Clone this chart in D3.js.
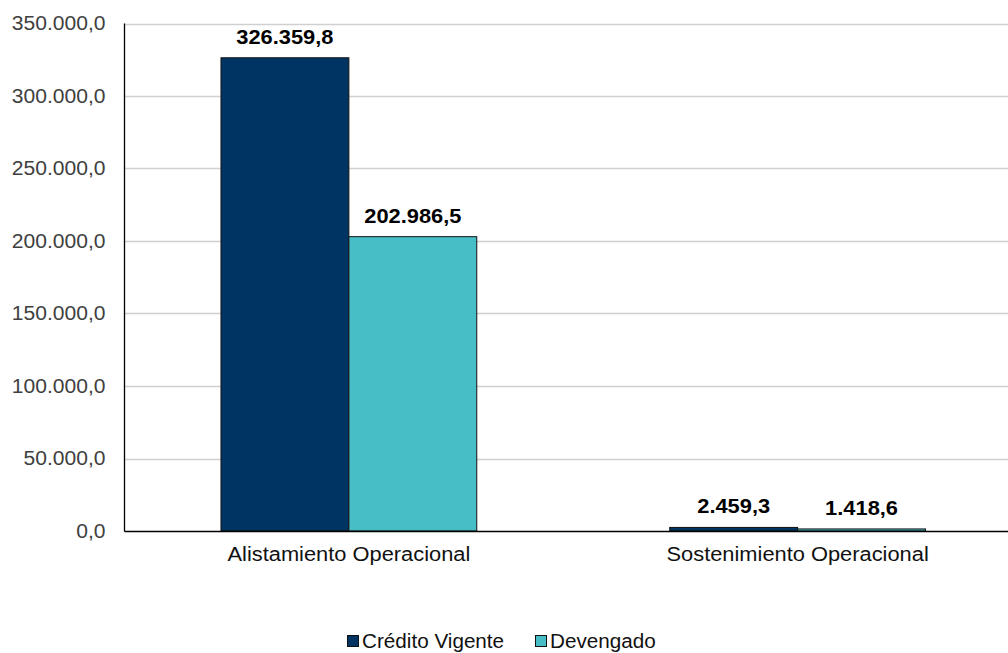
<!DOCTYPE html>
<html>
<head>
<meta charset="utf-8">
<script src="https://d3js.org/d3.v7.min.js"></script>
<style>
  html, body { margin: 0; padding: 0; background: #ffffff; }
  svg { display: block; font-family: "Liberation Sans", Arial, sans-serif; }
</style>
</head>
<body>
<svg id="chart" width="1008" height="653"></svg>
<script>
// Budget by program: current credit vs. accrued amount
const categories = ["Alistamiento Operacional", "Sostenimiento Operacional"];
const seriesNames = ["Crédito Vigente", "Devengado"];
const creditoVigente = [326359.8, 2459.3];
const devengado = [202986.5, 1418.6];
const yTicks = [0, 50000, 100000, 150000, 200000, 250000, 300000, 350000];
const seriesColors = ["#003462", "#47bdc6"];

const svg = d3.select("#chart");
const margin = { left: 124.5, right: -14, top: 23.5, bottom: 122 };
const W = 1008, H = 653;
const plotLeft = margin.left, plotRight = W - margin.right;
const plotTop = margin.top, plotBottom = H - margin.bottom;
const FONT = "19.5px";

// Spanish number format: "." thousands, "," decimals
const locale = d3.formatLocale({ decimal: ",", thousands: ".", grouping: [3], currency: ["", ""] });
const fmt = locale.format(",.1f");

// Widen a text selection horizontally, keeping its anchor
function widen(sel, k) {
  sel.each(function () {
    const len = this.getComputedTextLength();
    d3.select(this).attr("textLength", len * k).attr("lengthAdjust", "spacingAndGlyphs");
  });
}

const x0 = d3.scaleBand().domain(categories).range([plotLeft, plotRight])
  .paddingInner(0.43).paddingOuter(0.215);
const x1 = d3.scaleBand().domain(seriesNames).range([0, x0.bandwidth()]).padding(0);
const y = d3.scaleLinear().domain([0, 350000]).range([plotBottom, plotTop]);

// Gridlines
svg.append("g").selectAll("line").data(yTicks.filter(d => d > 0)).join("line")
  .attr("x1", plotLeft).attr("x2", W)
  .attr("y1", d => Math.round(y(d)) + 0.5).attr("y2", d => Math.round(y(d)) + 0.5)
  .attr("stroke", "#d0d0d0").attr("stroke-width", 1.3);

// Y axis tick labels
const yAxis = d3.axisLeft(y).tickValues(yTicks).tickFormat(fmt).tickSize(0).tickPadding(19);
const gy = svg.append("g").attr("transform", `translate(${plotLeft},0)`).call(yAxis);
gy.select(".domain").remove();
gy.selectAll("text").attr("fill", "#404040").style("font-size", FONT)
  .style("font-family", "'Liberation Sans', Arial, sans-serif").call(widen, 1.08);

// Bars
const table = categories.map((c, i) => ({ cat: c, vals: [creditoVigente[i], devengado[i]] }));
const groups = svg.append("g").selectAll("g").data(table).join("g")
  .attr("transform", d => `translate(${x0(d.cat)},0)`);

groups.selectAll("rect").data(d => d.vals.map((v, j) => ({ v, s: seriesNames[j], j }))).join("rect")
  .attr("x", d => x1(d.s))
  .attr("y", d => y(d.v))
  .attr("width", x1.bandwidth())
  .attr("height", d => plotBottom - y(d.v))
  .attr("fill", d => seriesColors[d.j])
  .attr("stroke", "#111")
  .attr("stroke-width", 1);

// Value labels
groups.selectAll("text").data(d => d.vals.map((v, j) => ({ v, s: seriesNames[j] }))).join("text")
  .attr("x", d => x1(d.s) + x1.bandwidth() / 2)
  .attr("y", d => y(d.v) - 14)
  .attr("text-anchor", "middle")
  .attr("font-weight", "bold")
  .attr("font-size", FONT)
  .attr("fill", "#000")
  .text(d => fmt(d.v))
  .call(widen, 1.12);

// Axis lines
svg.append("line").attr("x1", plotLeft).attr("x2", plotLeft)
  .attr("y1", plotTop).attr("y2", plotBottom + 0.5).attr("stroke", "#000").attr("stroke-width", 1.3);
svg.append("line").attr("x1", plotLeft).attr("x2", W)
  .attr("y1", plotBottom + 0.5).attr("y2", plotBottom + 0.5).attr("stroke", "#000").attr("stroke-width", 1.3);

// Category labels
const xAxis = d3.axisBottom(x0).tickSize(0).tickPadding(16);
const gx = svg.append("g").attr("transform", `translate(0,${plotBottom})`).call(xAxis);
gx.select(".domain").remove();
gx.selectAll("text").attr("fill", "#111").style("font-size", FONT)
  .style("font-family", "'Liberation Sans', Arial, sans-serif").call(widen, 1.12);

// Legend
const legendItems = [
  { name: seriesNames[0], color: seriesColors[0], x: 347 },
  { name: seriesNames[1], color: seriesColors[1], x: 535 }
];
const lg = svg.append("g").selectAll("g").data(legendItems).join("g")
  .attr("transform", d => `translate(${d.x},635)`);
lg.append("rect").attr("x", 0.5).attr("y", 0.5).attr("width", 11).attr("height", 11)
  .attr("fill", d => d.color).attr("stroke", "#111").attr("stroke-width", 1);
lg.append("text").attr("x", 15).attr("y", 13).attr("font-size", FONT).attr("fill", "#111")
  .text(d => d.name).call(widen, 1.06);
</script>
</body>
</html>
